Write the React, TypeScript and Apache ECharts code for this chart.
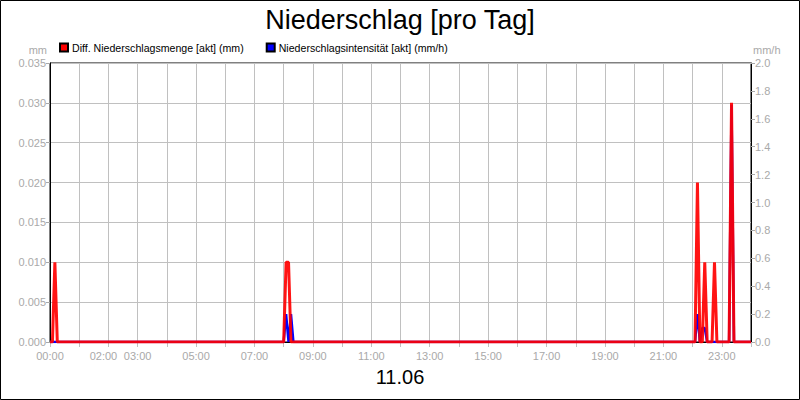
import React, { useEffect, useRef } from "react";
import * as echarts from "echarts";

// time in minutes after midnight, value in mm
const amountPoints: [number, number][] = [
  [0, 0], [5, 0], [10, 0.01], [15, 0],
  [480, 0], [485, 0.01], [490, 0.01], [495, 0],
  [1325, 0], [1330, 0.02], [1335, 0],
  [1340, 0], [1345, 0.01], [1350, 0],
  [1360, 0], [1365, 0.01], [1370, 0],
  [1395, 0], [1400, 0.03], [1405, 0], [1440, 0],
];

// time in minutes after midnight, value in mm/h
const intensityPoints: [number, number][] = [
  [0, 0], [480, 0], [485, 0.2], [490, 0], [495, 0.2], [500, 0],
  [1325, 0], [1330, 0.2], [1335, 0], [1340, 0.1], [1345, 0.1], [1350, 0],
  [1395, 0], [1400, 1.7], [1405, 0], [1440, 0],
];

const shownHours = [0, 2, 3, 5, 7, 9, 11, 13, 15, 17, 19, 21, 23];
const seriesNames = ["Diff. Niederschlagsmenge [akt] (mm)", "Niederschlagsintensität [akt] (mm/h)"];
const titleText = "Niederschlag [pro Tag]";
const dateText = "11.06";

const FONT = "Liberation Sans, Arial, sans-serif";
const GRAY = "#a9a9a9";

export default function App() {
  const ref = useRef<HTMLDivElement>(null);
  useEffect(() => {
    if (!ref.current) return;
    const chart = echarts.init(ref.current, null, { renderer: "svg" });
    chart.setOption({
      animation: false,
      backgroundColor: "#fff",
      title: {
        text: titleText,
        left: "center",
        top: 1,
        textStyle: { fontFamily: FONT, fontSize: 27, fontWeight: "normal", color: "#000" },
      },
      legend: {
        left: 54,
        top: 37,
        itemWidth: 8,
        itemHeight: 8,
        itemGap: 22,
        icon: "rect",
        data: seriesNames,
        textStyle: { fontFamily: FONT, fontSize: 10.6, color: "#000", padding: [0, 0, 0, -1] },
      },
      grid: {
        left: 50,
        right: 49,
        top: 63,
        bottom: 58,
        show: true,
        borderColor: "#000",
        borderWidth: 1,
      },
      xAxis: {
        type: "value",
        min: 0,
        max: 1440,
        interval: 60,
        axisLine: { show: true, lineStyle: { color: "#000" } },
        axisTick: { show: true, length: 5, lineStyle: { color: "#c0c0c0" } },
        splitLine: { show: true, lineStyle: { color: "#c0c0c0" } },
        axisLabel: {
          fontFamily: FONT,
          fontSize: 11,
          color: GRAY,
          margin: 8,
          formatter: (v: number) => {
            const h = Math.round(v / 60);
            if (!shownHours.includes(h)) return "";
            const s = (h < 10 ? "0" : "") + h + ":00";
            return h === 2 ? "{s|" + s + "}" : s;
          },
          rich: { s: { padding: [0, 10, 0, 0], fontFamily: FONT, fontSize: 11, color: GRAY } },
        },
      },
      yAxis: [
        {
          type: "value",
          min: 0,
          max: 0.035,
          interval: 0.005,
          axisLine: { show: true, lineStyle: { color: "#000" } },
          axisTick: { show: true, length: 4, lineStyle: { color: GRAY } },
          splitLine: { show: true, lineStyle: { color: "#c0c0c0" } },
          axisLabel: {
            fontFamily: FONT,
            fontSize: 11,
            color: GRAY,
            margin: 4,
            formatter: (v: number) => v.toFixed(3),
          },
        },
        {
          type: "value",
          min: 0,
          max: 2,
          interval: 0.2,
          position: "right",
          axisLine: { show: true, lineStyle: { color: "#000" } },
          axisTick: { show: true, length: 4, lineStyle: { color: GRAY } },
          splitLine: { show: false },
          axisLabel: {
            fontFamily: FONT,
            fontSize: 11,
            color: GRAY,
            margin: 4,
            formatter: (v: number) => v.toFixed(1),
          },
        },
      ],
      graphic: [
        {
          type: "rect",
          shape: { x: 0.5, y: 0.5, width: 799, height: 399 },
          style: { fill: "none", stroke: "#000", lineWidth: 1 },
          silent: true,
          z: 100,
        },
        {
          type: "text",
          x: 47,
          y: 50,
          style: { text: "mm", fill: GRAY, font: "11px " + FONT, textAlign: "right", textVerticalAlign: "middle" },
        },
        {
          type: "text",
          x: 753,
          y: 50,
          style: { text: "mm/h", fill: GRAY, font: "11px " + FONT, textAlign: "left", textVerticalAlign: "middle" },
        },
        {
          type: "text",
          x: 400,
          y: 377,
          style: { text: dateText, fill: "#000", font: "20px " + FONT, textAlign: "center", textVerticalAlign: "middle" },
        },
      ],
      series: [
        {
          name: seriesNames[1],
          type: "line",
          yAxisIndex: 1,
          data: intensityPoints,
          showSymbol: false,
          color: "#0000ff",
          itemStyle: { color: "#0000ff", borderColor: "#000", borderWidth: 1 },
          lineStyle: { color: "#0000ff", width: 2.5 },
          z: 2,
        },
        {
          name: seriesNames[0],
          type: "line",
          yAxisIndex: 0,
          data: amountPoints,
          showSymbol: false,
          color: "#ff0000",
          itemStyle: { color: "#ff0000", borderColor: "#000", borderWidth: 1 },
          lineStyle: { color: "#ff0000", width: 3, opacity: 0.92 },
          z: 3,
        },
      ],
    });
    return () => chart.dispose();
  }, []);
  return (
    <div
      ref={ref}
      style={{ position: "fixed", left: 0, top: 0, width: 800, height: 400 }}
    />
  );
}
